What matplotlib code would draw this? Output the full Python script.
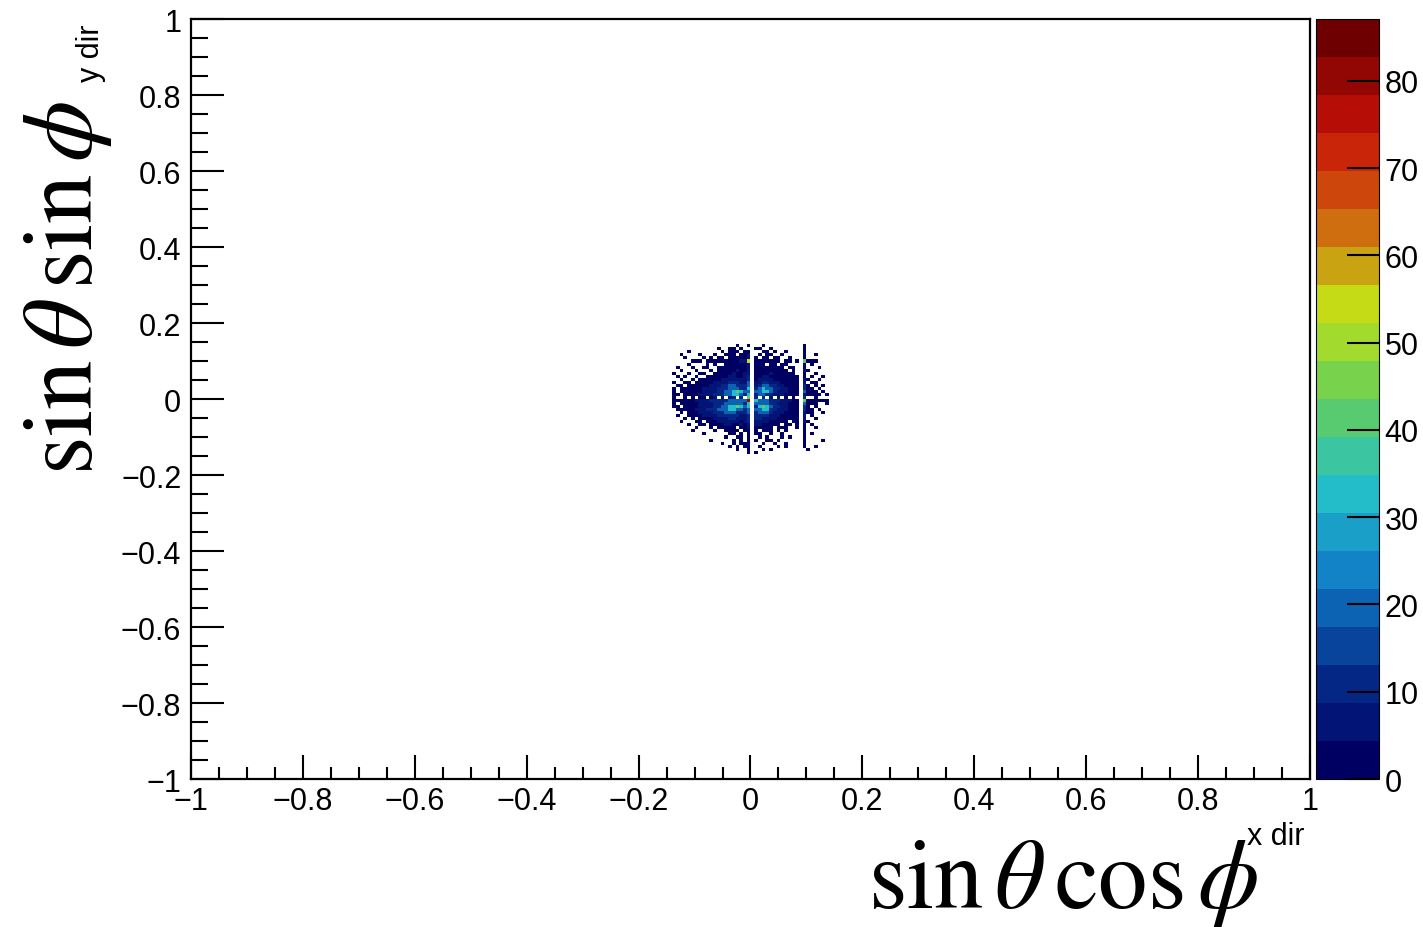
import numpy as np
import matplotlib
matplotlib.use("Agg")
import matplotlib.pyplot as plt
from matplotlib.colors import LinearSegmentedColormap, ListedColormap, BoundaryNorm

# ---------------- data ----------------
# histogram binning (ROOT TH2): x in [-1,1], y in [-1,1]
n_xbins = 300
n_ybins = 250
# cluster grid: column 0 starts at x bin index 129, row 0 (top) is y bin index 142
grid_x0_bin = 129
grid_top_ybin = 142
# cell codes -> counts
code_counts = {'1': 2, '2': 7, '3': 13, '4': 20, '5': 31, '6': 41,
               '7': 55, '8': 65, '9': 82}
cluster_rows = [
    ".................1..1...1..........1......",
    "............1..11.1...11..1........1......",
    "....1........1.111.11...11.1..1....1......",
    "..1....1...1..111.112..1.11..1.....1..1...",
    "...1....1.1.11.111112.1.11.11..1...1......",
    ".....111.111111111227.1111111.11.1.6111...",
    "....1....1.1..1111112.111.11.11....1.1....",
    ".1...1..11..111111112.11111111.11..1...1..",
    "..1...1...1.111112112.111111111.1..21.....",
    "1...1..11..1111121122.11112111111..1..1...",
    ".1.1..1..111111221123.112211111111.1.1..1.",
    "..1..1.11111122222223.122221111111.21..1..",
    "1..11.111112222333224.223322211111.2.11...",
    ".11.11111122233443334.234433221111.31.1.1.",
    "1.1111112222333444335.345443322111.311.1..",
    "1.1111112222334456544.445543222111.4111.1.",
    "11.111122223334455435.344332221111.21111.1",
    "1..1.1.11.12.2.23.3.6.3.3.2.2.1.1..3..1...",
    "111111222233333444449.544433322211.6111111",
    "1.1111122223334444435.444433222111.4111..1",
    "11.111122223344556545.356543322111.31.1...",
    ".11111222333444554434.445533222111.311.1..",
    "..1.11122223334443334.344432221111.211..1.",
    ".1..11112222333333223.333322211111.2.1....",
    "...1.1.11112222332223.332222111111.2..1...",
    "..1...11.111222222123.222211111.11.21.....",
    "....1..11.11112211212.2211111.11.1.1.1....",
    "......1...1.11111.112.11111.111..1.1..1...",
    ".....1.....1..1111.11.1.111.1.1....1......",
    "........1......11.1.1.11..1..1.....1.1....",
    "..............1..11.1..1.1...1.1...1......",
    "..........1.....1.1.1.1..11.1......1....1.",
    ".............1..1.111...1..1..1....1......",
    "...............1.1.11..1....1.1....1..1...",
    ".................1..1...1.1.........1.....",
    "....................1.1...................",
]
z_max = 87.1
n_levels = 20
cbar_ticks = [0, 10, 20, 30, 40, 50, 60, 70, 80]
x_ticks = [-1, -0.8, -0.6, -0.4, -0.2, 0, 0.2, 0.4, 0.6, 0.8, 1]
y_ticks = [-1, -0.8, -0.6, -0.4, -0.2, 0, 0.2, 0.4, 0.6, 0.8, 1]
x_ticklabels = ["\u22121", "\u22120.8", "\u22120.6", "\u22120.4", "\u22120.2", "0",
                "0.2", "0.4", "0.6", "0.8", "1"]
y_ticklabels = x_ticklabels

# ROOT kRainBow palette
pal_stops = [0, 0.125, 0.25, 0.375, 0.5, 0.625, 0.75, 0.875, 1]
pal_red = [0, 5, 15, 35, 102, 196, 208, 199, 110]
pal_green = [0, 48, 124, 192, 206, 226, 97, 16, 0]
pal_blue = [99, 142, 198, 201, 90, 22, 13, 8, 2]

# ---------------- build histogram ----------------
H = np.zeros((n_ybins, n_xbins))
ncols = 42
for r, row in enumerate(cluster_rows):
    row = (row + "." * ncols)[:ncols]
    for c, ch in enumerate(row):
        if ch in code_counts:
            H[grid_top_ybin - r, grid_x0_bin + c] = code_counts[ch]
Hm = np.ma.masked_where(H <= 0, H)
xedges = np.linspace(-1, 1, n_xbins + 1)
yedges = np.linspace(-1, 1, n_ybins + 1)

base = LinearSegmentedColormap.from_list(
    "kRainBow",
    [(s, (r / 255, g / 255, b / 255)) for s, r, g, b in zip(pal_stops, pal_red, pal_green, pal_blue)])
cmap = ListedColormap([base(i / (n_levels - 1)) for i in range(n_levels)])
levels = np.linspace(0, z_max, n_levels + 1)
norm = BoundaryNorm(levels, cmap.N)

# ---------------- figure ----------------
plt.rcParams['font.family'] = ['Liberation Sans', 'DejaVu Sans']
plt.rcParams['mathtext.fontset'] = 'stix'
W, Hpx = 1423, 928
fig = plt.figure(figsize=(W / 100, Hpx / 100), dpi=100)
pt = 0.72  # points per pixel
lab_fs = 22

ax = fig.add_axes([191 / W, 1 - 780 / Hpx, (1310 - 191) / W, (780 - 20) / Hpx])
mesh = ax.pcolormesh(xedges, yedges, Hm, cmap=cmap, norm=norm, shading='flat')
ax.set_xlim(-1, 1)
ax.set_ylim(-1, 1)
ax.set_xticks(x_ticks)
ax.set_xticklabels(x_ticklabels)
ax.set_yticks(y_ticks)
ax.set_yticklabels(y_ticklabels)
ax.set_xticks(np.arange(-1, 1.0001, 0.05), minor=True)
ax.set_yticks(np.arange(-1, 1.0001, 0.05), minor=True)
ax.tick_params(axis='x', which='major', direction='in', length=24 * pt, width=1.5,
               labelsize=lab_fs, pad=5, top=False)
ax.tick_params(axis='x', which='minor', direction='in', length=12 * pt, width=1.5, top=False)
ax.tick_params(axis='y', which='major', direction='in', length=33 * pt, width=1.5,
               labelsize=lab_fs, pad=7, right=False)
ax.tick_params(axis='y', which='minor', direction='in', length=17 * pt, width=1.5, right=False)
for s in ax.spines.values():
    s.set_linewidth(1.6)

cax = fig.add_axes([1316 / W, 1 - 780 / Hpx, (1379 - 1316) / W, (780 - 20) / Hpx])
cb = fig.colorbar(mesh, cax=cax, ticks=cbar_ticks)
cb.outline.set_linewidth(0.8)
cax.tick_params(axis='y', which='major', direction='in', length=32 * pt, width=1.5,
                labelsize=lab_fs, pad=4, right=True, left=False)
cax.tick_params(axis='y', which='minor', length=0)
cb.set_ticklabels([str(t) for t in cbar_ticks])

# axis titles
fig.text(868 / W, 1 - 908 / Hpx, r'$\mathrm{sin}\,\theta\,\mathrm{cos}\,\phi$',
         fontsize=71, ha='left', va='baseline')
fig.text(1247 / W, 1 - 845 / Hpx, 'x dir', fontsize=lab_fs, ha='left', va='baseline')
fig.text(92 / W, 1 - 475 / Hpx, r'$\mathrm{sin}\,\theta\,\mathrm{sin}\,\phi$',
         fontsize=71, ha='left', va='baseline', rotation=90, rotation_mode='anchor')
fig.text(99 / W, 1 - 82 / Hpx, 'y dir', fontsize=lab_fs, ha='left', va='baseline',
         rotation=90, rotation_mode='anchor')

fig.savefig("out.png", dpi=100)
